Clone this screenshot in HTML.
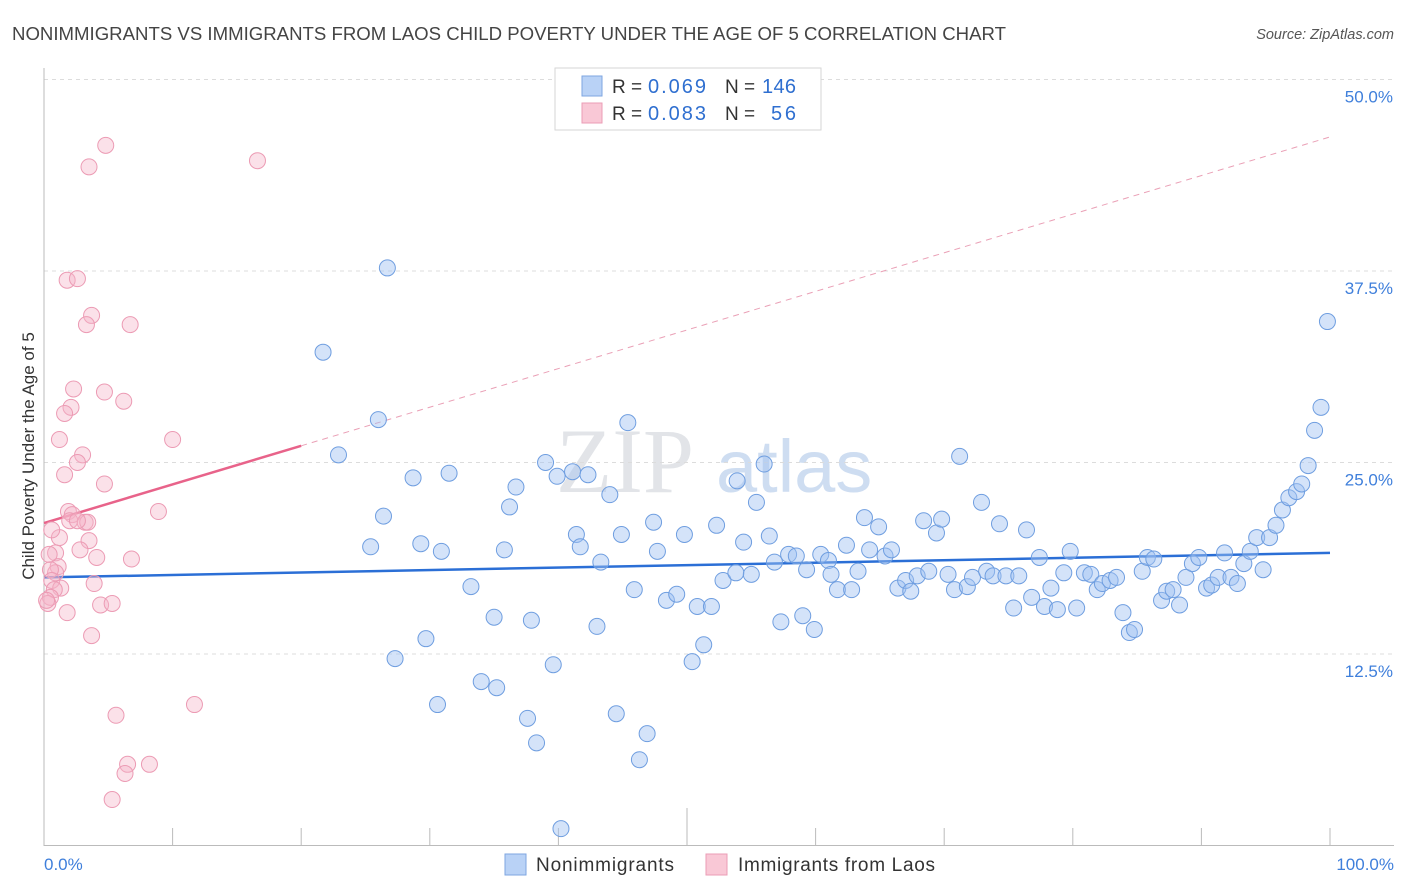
<!DOCTYPE html>
<html><head><meta charset="utf-8"><style>
body{margin:0;background:#fff;width:1406px;height:892px;overflow:hidden;font-family:"Liberation Sans",sans-serif}
svg{display:block}
</style></head><body>
<svg id="chart" width="1406" height="892" xmlns="http://www.w3.org/2000/svg">
<text x="12" y="40" font-size="18" fill="#444" textLength="994" lengthAdjust="spacingAndGlyphs">NONIMMIGRANTS VS IMMIGRANTS FROM LAOS CHILD POVERTY UNDER THE AGE OF 5 CORRELATION CHART</text>
<text x="1394" y="39" font-size="14.5" fill="#555" font-style="italic" text-anchor="end">Source: ZipAtlas.com</text>
<g opacity="0.9">
<text x="556" y="492" font-size="92" fill="#dfe2e6" font-family="Liberation Serif,serif">ZIP</text>
<text x="716" y="492" font-size="74" fill="#c9daf0">atlas</text>
</g>
<g id="grid"></g>
<g id="axes"></g>
<g id="trends"></g>
<g id="points"></g>
<text x="34" y="456" font-size="17" fill="#333" text-anchor="middle" transform="rotate(-90 34 456)">Child Poverty Under the Age of 5</text>
<g>
<rect x="555" y="68" width="266" height="62" fill="#fff" stroke="#d6d6d6"/>
<rect x="582" y="76" width="20" height="20" fill="#b9d2f6" stroke="#7ea6e0"/>
<rect x="582" y="103" width="20" height="20" fill="#f9c8d6" stroke="#eb9db6"/>
<text x="612" y="93" font-size="19" fill="#333">R =</text>
<text x="648" y="93" font-size="20" fill="#2f6fd0" textLength="58">0.069</text>
<text x="725" y="93" font-size="19" fill="#333">N =</text>
<text x="762" y="93" font-size="20" fill="#2f6fd0" textLength="34">146</text>
<text x="612" y="120" font-size="19" fill="#333">R =</text>
<text x="648" y="120" font-size="20" fill="#2f6fd0" textLength="58">0.083</text>
<text x="725" y="120" font-size="19" fill="#333">N =</text>
<text x="771" y="120" font-size="20" fill="#2f6fd0" textLength="25">56</text>
</g>
<g>
<rect x="505" y="854" width="21" height="21" fill="#b9d2f6" stroke="#7ea6e0"/>
<text x="536" y="871" font-size="19" fill="#333" textLength="138">Nonimmigrants</text>
<rect x="706" y="854" width="21" height="21" fill="#f9c8d6" stroke="#eb9db6"/>
<text x="738" y="871" font-size="19" fill="#333" textLength="197">Immigrants from Laos</text>
</g>
</svg>
<script>
const yTicks=[12.5,25,37.5,50];
const yTickLabels=["12.5%","25.0%","37.5%","50.0%"];
const xTickValues=[0,10,20,30,40,50,60,70,80,90,100];
const xEndLabels=["0.0%","100.0%"];
const blueX=[26.7,21.7,26.0,22.9,26.4,25.4,28.7,31.5,29.3,30.9,29.7,27.3,33.2,35.0,34.0,35.2,30.6,37.6,38.3,40.2,39.6,37.9,35.8,36.2,36.7,39.0,39.9,41.1,42.3,41.4,41.7,43.3,44.0,44.9,45.4,45.9,43.0,44.5,46.9,46.3,47.7,47.4,48.4,49.2,49.8,50.4,50.8,51.3,51.9,52.3,52.8,53.9,53.8,54.4,55.0,55.4,56.0,56.4,56.8,57.3,57.9,58.5,59.3,59.9,59.0,60.4,61.0,61.2,61.7,62.8,62.4,63.3,63.8,64.2,64.9,65.4,65.9,66.4,67.0,67.4,67.9,68.4,68.8,69.4,69.8,70.3,70.8,71.2,71.8,72.2,72.9,73.3,73.8,74.3,74.8,75.4,75.8,76.4,76.8,77.4,77.8,78.3,78.8,79.3,79.8,80.3,80.9,81.4,81.9,82.3,82.9,83.4,83.9,84.4,84.8,85.4,85.8,86.3,86.9,87.3,87.8,88.3,88.8,89.3,89.8,90.4,90.8,91.3,91.8,92.3,92.8,93.3,93.8,94.3,94.8,95.3,95.8,96.3,96.8,97.4,97.8,98.3,98.8,99.3,99.8];
const blueY=[37.7,32.2,27.8,25.5,21.5,19.5,24.0,24.3,19.7,19.2,13.5,12.2,16.9,14.9,10.7,10.3,9.2,8.3,6.7,1.1,11.8,14.7,19.3,22.1,23.4,25.0,24.1,24.4,24.2,20.3,19.5,18.5,22.9,20.3,27.6,16.7,14.3,8.6,7.3,5.6,19.2,21.1,16.0,16.4,20.3,12.0,15.6,13.1,15.6,20.9,17.3,23.8,17.8,19.8,17.7,22.4,24.9,20.2,18.5,14.6,19.0,18.9,18.0,14.1,15.0,19.0,18.6,17.7,16.7,16.7,19.6,17.9,21.4,19.3,20.8,18.9,19.3,16.8,17.3,16.6,17.6,21.2,17.9,20.4,21.3,17.7,16.7,25.4,16.9,17.5,22.4,17.9,17.6,21.0,17.6,15.5,17.6,20.6,16.2,18.8,15.6,16.8,15.4,17.8,19.2,15.5,17.8,17.7,16.7,17.1,17.3,17.5,15.2,13.9,14.1,17.9,18.8,18.7,16.0,16.6,16.7,15.7,17.5,18.4,18.8,16.8,17.0,17.5,19.1,17.5,17.1,18.4,19.2,20.1,18.0,20.1,20.9,21.9,22.7,23.1,23.6,24.8,27.1,28.6,34.2];
const pinkX=[4.8,3.5,16.6,1.8,2.6,3.7,3.3,6.7,2.3,4.7,6.2,2.1,1.6,1.2,10.0,3.0,2.6,1.6,4.7,8.9,1.9,2.2,2.0,3.2,3.4,2.6,1.2,3.5,0.6,2.8,0.9,4.1,6.8,1.1,0.9,0.5,0.6,3.9,1.3,0.8,0.5,0.3,4.4,5.3,1.8,3.7,11.7,5.6,6.5,8.2,6.3,5.3,0.2,0.4];
const pinkY=[45.7,44.3,44.7,36.9,37.0,34.6,34.0,34.0,29.8,29.6,29.0,28.6,28.2,26.5,26.5,25.5,25.0,24.2,23.6,21.8,21.8,21.6,21.2,21.1,21.1,21.2,20.1,19.9,20.6,19.3,19.1,18.8,18.7,18.2,17.8,18.0,17.3,17.1,16.8,16.7,16.2,15.8,15.7,15.8,15.2,13.7,9.2,8.5,5.3,5.3,4.7,3.0,16.0,19.0];
const blueTrend=[17.5,19.1];
const pinkTrend=[21.05,0.252];
const pinkSolidEnd=20;

const NS="http://www.w3.org/2000/svg";
const X0=44,X1=1330,YB=845.5,PXY=15.32;
const sx=v=>X0+(X1-X0)*v/100;
const sy=v=>YB-v*PXY;
function mk(tag,attrs,parent){const e=document.createElementNS(NS,tag);for(const k in attrs)e.setAttribute(k,attrs[k]);parent.appendChild(e);return e;}
const grid=document.getElementById('grid'),axes=document.getElementById('axes'),trends=document.getElementById('trends'),pts=document.getElementById('points');
yTicks.forEach((t,i)=>{
  const l=mk('line',{x1:44,x2:1394,y1:sy(t),y2:sy(t),stroke:'#dcdcdc','stroke-dasharray':'4,4'},grid);
  
  
  const tx=mk('text',{x:1393,y:sy(t)+23,'font-size':17,fill:'#3f7fdb','text-anchor':'end'},axes);
  tx.textContent=yTickLabels[i];
  
  
});
const ya=mk('line',{x1:44,x2:44,y1:68,y2:846,stroke:'#bbb'},axes);


const xa=mk('line',{x1:44,x2:1394,y1:845.5,y2:845.5,stroke:'#bbb'},axes);


xTickValues.forEach(v=>{
  const t=mk('line',{x1:sx(v),x2:sx(v),y1:v===50?808:828,y2:845,stroke:'#bbb'},axes);
  
  
});
[[0,'start',44],[100,'end',1394]].forEach((a,i)=>{
  const t=mk('text',{x:a[2],y:870,'font-size':17,fill:'#3f7fdb','text-anchor':a[1]},axes);
  t.textContent=xEndLabels[i];
  
  
});
blueX.forEach((x,i)=>{
  const c=mk('circle',{cx:sx(x),cy:sy(blueY[i]),r:8,fill:'rgba(160,192,242,0.45)',stroke:'#6f9ee0','stroke-width':1},pts);
  
  
});
pinkX.forEach((x,i)=>{
  const c=mk('circle',{cx:sx(x),cy:sy(pinkY[i]),r:8,fill:'rgba(246,180,200,0.4)',stroke:'#ec9bb4','stroke-width':1},pts);
  
  
});
const pf=x=>pinkTrend[0]+pinkTrend[1]*x;
const pd=mk('line',{x1:sx(pinkSolidEnd),y1:sy(pf(pinkSolidEnd)),x2:sx(100),y2:sy(pf(100)),stroke:'#eaa0b6','stroke-width':1,'stroke-dasharray':'6,5'},trends);


const ps=mk('line',{x1:sx(0),y1:sy(pf(0)),x2:sx(pinkSolidEnd),y2:sy(pf(pinkSolidEnd)),stroke:'#e8638a','stroke-width':2.5},trends);


const bl=mk('line',{x1:sx(0),y1:sy(blueTrend[0]),x2:sx(100),y2:sy(blueTrend[1]),stroke:'#2b6fd6','stroke-width':2.5},trends);


</script>
</body></html>
